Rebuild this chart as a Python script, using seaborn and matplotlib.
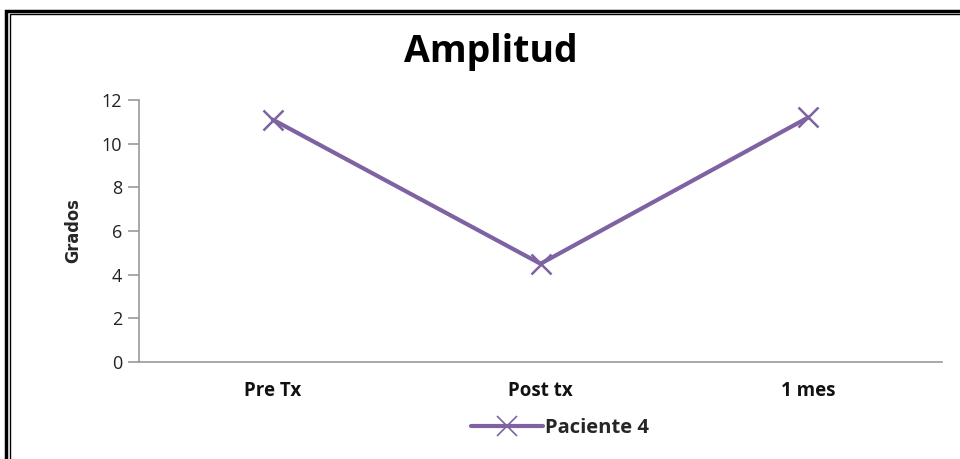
import matplotlib
matplotlib.use("Agg")
import matplotlib.pyplot as plt
import seaborn as sns
import pandas as pd
from matplotlib.patches import Rectangle
from matplotlib.lines import Line2D

categories = ["Pre Tx", "Post tx", "1 mes"]
values = [11.1, 4.5, 11.2]
series_name = "Paciente 4"
yticks = [0, 2, 4, 6, 8, 10, 12]

sns.set_theme(style="white")
plt.rcParams['font.family'] = ['Open Sans', 'DejaVu Sans']

df = pd.DataFrame({"cat": categories, "val": values, "serie": series_name})

fig = plt.figure(figsize=(9.6, 4.59), dpi=100)
W, H = 960, 459
ax = fig.add_axes([139 / W, 1 - 362 / H, (942 - 139) / W, (362 - 100) / H])

color = "#7E62A1"
sns.lineplot(data=df, x="cat", y="val", hue="serie", palette=[color], ax=ax,
             marker="x", markersize=14, markeredgewidth=1.8, markeredgecolor=color,
             linewidth=3, sort=False, legend=False)

ax.set_xlim(-0.5, 2.5)
ax.set_ylim(0, 12)
ax.set_yticks(yticks)
ax.set_yticklabels([str(v) for v in yticks], fontsize=13, color="#222222")
ax.set_xticks(range(len(categories)))
ax.set_xticklabels(categories, fontsize=13.5, fontweight="bold", color="#111111")
ax.tick_params(axis="x", which="major", length=0, pad=14)
ax.set_xticks([-0.5, 0.5, 1.5, 2.5], minor=True)
ax.tick_params(axis="x", which="minor", length=6, width=1.2, color="#999999", direction="out")
ax.tick_params(axis="y", length=8, width=1.2, color="#999999", direction="out", left=True, pad=4)
ax.set_xlabel("")
ax.set_ylabel("Grados", fontsize=13, fontweight="bold", fontstretch="condensed",
              family=["DejaVu Sans"], labelpad=14)
for s in ["top", "right"]:
    ax.spines[s].set_visible(False)
for s in ["left", "bottom"]:
    ax.spines[s].set_color("#999999")
    ax.spines[s].set_linewidth(1.2)
ax.grid(False)

fig.text(491 / W, 1 - 52 / H, "Amplitud", fontsize=27, fontweight="bold",
         ha="center", va="center", color="black")

handle = Line2D([], [], color=color, linewidth=3, marker="x", markersize=14,
                markeredgewidth=1.2, markeredgecolor=color)
fig.legend([handle], [series_name], loc="center", bbox_to_anchor=(560 / W, 1 - 428 / H),
           frameon=False, handlelength=3.6, handletextpad=0.1,
           prop={"weight": "bold", "size": 14.5})

# outer double border (cut off at right/bottom)
fig.patches.append(Rectangle((5.5 / W, -0.1), 1.2, 1 - 10.5 / H + 0.1, transform=fig.transFigure,
                             fill=False, edgecolor="black", linewidth=2.5))
fig.patches.append(Rectangle((9.5 / W, -0.1), 1.2, 1 - 14 / H + 0.1, transform=fig.transFigure,
                             fill=False, edgecolor="black", linewidth=1.0))

fig.savefig("out.png", dpi=100)
